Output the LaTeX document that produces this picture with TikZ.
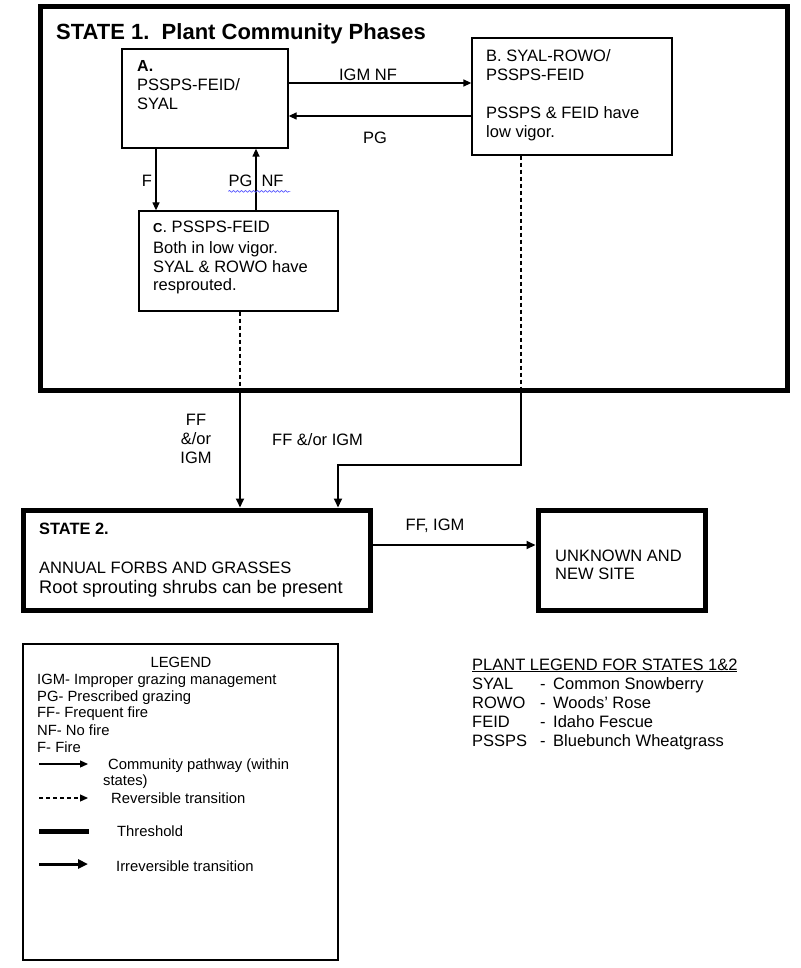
\documentclass[tikz,border=0pt]{standalone}
\usepackage{fontspec}
\setmainfont{Liberation Sans}
\usetikzlibrary{arrows.meta,decorations.pathmorphing}
\begin{document}
\begin{tikzpicture}[x=1pt,y=-1pt,
  box/.style={draw, line width=1.3pt, inner sep=0pt},
  statebox/.style={draw, line width=5pt, inner sep=0pt},
  txt/.style={anchor=base west, inner sep=0pt, font=\fontsize{16.5}{19}\selectfont},
  lbl/.style={anchor=base, inner sep=0pt, font=\fontsize{16.5}{19}\selectfont},
  legtxt/.style={anchor=base west, inner sep=0pt, font=\fontsize{14.8}{17}\selectfont},
  path/.style={line width=1.3pt, -{Triangle[length=8pt,width=7pt]}},
  revline/.style={line width=1.3pt, dash pattern=on 4pt off 3pt},
  trans/.style={line width=2pt, -{Triangle[length=9pt,width=8pt]}},
  thresh/.style={line width=5pt}
]
\useasboundingbox (0,0) rectangle (800,968);

% boxes
\node[statebox, minimum width=747pt, minimum height=383pt] (S1) at (413.5,198.5) {};
\node[box, minimum width=166pt, minimum height=99pt] (A) at (205,98.5) {};
\node[box, minimum width=200pt, minimum height=117pt] (B) at (572,96.5) {};
\node[box, minimum width=199pt, minimum height=100pt] (C) at (238.5,261) {};
\node[statebox, minimum width=347pt, minimum height=100pt] (S2) at (196.5,560) {};
\node[statebox, minimum width=167pt, minimum height=100pt] (U) at (621.5,560) {};
\node[draw, line width=1.3pt, inner sep=0pt, minimum width=315pt, minimum height=316pt] (L) at (180.5,802) {};

% title
\node[anchor=base west, inner sep=0pt, font=\fontsize{22}{24}\selectfont\bfseries] (title) at (56,40) {STATE 1.\ \ Plant Community Phases};

% box A text
\node[txt, font=\fontsize{16}{19}\selectfont\bfseries] (a1) at (137,72) {A.};
\node[txt] (a2) at (137,91) {PSSPS-FEID/};
\node[txt] (a3) at (137,110) {SYAL};

% box B text
\node[txt] (b1) at (486,62) {B. SYAL-ROWO/};
\node[txt] (b2) at (486,81) {PSSPS-FEID};
\node[txt] (b3) at (486,119) {PSSPS \& FEID have};
\node[txt] (b4) at (486,138) {low vigor.};

% box C text
\node[txt] (c1) at (153,233) {{\bfseries\fontsize{13}{13}\selectfont C}. PSSPS-FEID};
\node[txt] (c2) at (153,253) {Both in low vigor.};
\node[txt] (c3) at (153,272) {SYAL \& ROWO have};
\node[txt] (c4) at (153,290) {resprouted.};

% State 2 text
\node[txt, font=\fontsize{16.4}{19}\selectfont\bfseries] (s1) at (39,534) {STATE 2.};
\node[txt] (s2) at (39,573) {ANNUAL FORBS AND GRASSES};
\node[txt, font=\fontsize{18.2}{20}\selectfont] (s3) at (39,593) {Root sprouting shrubs can be present};

% Unknown text
\node[txt] (u1) at (555,561) {UNKNOWN AND};
\node[txt] (u2) at (555,579) {NEW SITE};

% pathways within state 1
\draw[path] (A.east |- 0,83) -- (B.west |- 0,83);
\node[lbl] (lIGMNF) at (368,81) {IGM NF};
\draw[path] (B.west |- 0,116) -- (A.east |- 0,116);
\node[lbl] (lPG) at (375,144) {PG};
\draw[path] (A.south -| 156,0) -- (C.north -| 156,0);
\node[lbl] (lF) at (147,187) {F};
\draw[path] (C.north -| 256,0) -- (A.south -| 256,0);
\node[lbl] (lPGNF) at (256,187) {PG\ \ NF};
\draw[blue!65, line width=0.7pt, decorate, decoration={snake, amplitude=0.9pt, segment length=4pt}] (lPGNF.south west) ++(0,4) -- ++(62,0);

% transitions
\coordinate (cx) at (S1.south -| 240,0);
\draw[revline] (C.south -| 240,0) -- (cx);
\draw[trans] (cx) -- (S2.north -| 240,0);
\node[lbl] (lff1) at (196,425) {FF};
\node[lbl] (lff2) at (196,444) {\&/or};
\node[lbl] (lff3) at (196,463) {IGM};

\coordinate (bx) at (S1.south -| 521,0);
\coordinate (bend1) at (521,465);
\coordinate (bend2) at (338,465);
\draw[revline] (B.south -| 521,0) -- (bx);
\draw[trans] (bx) -- (bend1) -- (bend2) -- (S2.north -| 338,0);
\node[txt] (lff4) at (272,445) {FF \&/or IGM};

\draw[trans] (S2.east |- 0,545) -- (U.west |- 0,545);
\node[lbl] (lff5) at (435,530) {FF, IGM};

% legend
\node[anchor=base, inner sep=0pt, font=\fontsize{14.8}{17}\selectfont] (lg0) at (181,667) {LEGEND};
\node[legtxt] (lg1) at (37,684) {IGM- Improper grazing management};
\node[legtxt] (lg2) at (37,701) {PG- Prescribed grazing};
\node[legtxt] (lg3) at (37,717) {FF- Frequent fire};
\node[legtxt] (lg4) at (37,735) {NF- No fire};
\node[legtxt] (lg5) at (37,752) {F- Fire};
\coordinate (k1a) at (39,764); \coordinate (k1b) at (88,764);
\draw[path] (k1a) -- (k1b);
\node[legtxt] (lg6) at (108,769) {Community pathway (within};
\node[legtxt] (lg7) at (103,785) {states)};
\coordinate (k2a) at (39,798); \coordinate (k2b) at (88,798);
\draw[revline, -{Triangle[length=8pt,width=7pt]}] (k2a) -- (k2b);
\node[legtxt] (lg8) at (111,803) {Reversible transition};
\coordinate (k3a) at (39,831); \coordinate (k3b) at (89,831);
\draw[thresh] (k3a) -- (k3b);
\node[legtxt] (lg9) at (117,836) {Threshold};
\coordinate (k4a) at (39,864); \coordinate (k4b) at (88,864);
\draw[line width=3pt, -{Triangle[length=10pt,width=9pt]}] (k4a) -- (k4b);
\node[legtxt] (lg10) at (116,871) {Irreversible transition};

% plant legend
\node[txt] (p0) at (472,670) {\underline{PLANT LEGEND FOR STATES 1\&2}};
\node[txt] (p1a) at (472,689) {SYAL};
\node[txt] (p1b) at (540,689) {-};
\node[txt] (p1c) at (553,689) {Common Snowberry};
\node[txt] (p2a) at (472,708) {ROWO};
\node[txt] (p2b) at (540,708) {-};
\node[txt] (p2c) at (553,708) {Woods’ Rose};
\node[txt] (p3a) at (472,727) {FEID};
\node[txt] (p3b) at (540,727) {-};
\node[txt] (p3c) at (553,727) {Idaho Fescue};
\node[txt] (p4a) at (472,746) {PSSPS};
\node[txt] (p4b) at (540,746) {-};
\node[txt] (p4c) at (553,746) {Bluebunch Wheatgrass};
\end{tikzpicture}
\end{document}
